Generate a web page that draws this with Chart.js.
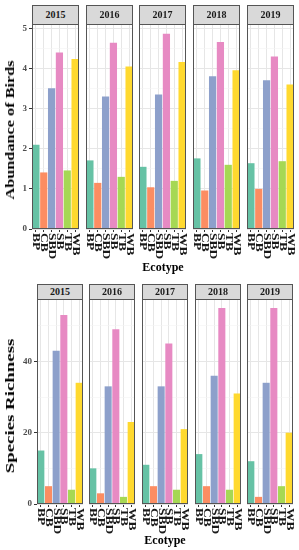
<!DOCTYPE html>
<html>
<head>
<meta charset="utf-8">
<script src="https://cdn.jsdelivr.net/npm/chart.js@4"></script>
<style>
  body { margin: 0; width: 299px; height: 550px; background: #fff; position: relative; overflow: hidden; font-family: "Liberation Serif", serif; }
  canvas { position: absolute; }
  .strip { position: absolute; box-sizing: border-box; background: #d9d9d9; border: 1px solid #555; font-weight: bold; font-size: 10px; color: #1a1a1a; text-align: center; z-index: 2; }
  .xtitle { position: absolute; font-weight: bold; font-size: 12px; color: #000; transform: translate(-50%, -50%); white-space: nowrap; }
  .ytitle { position: absolute; font-weight: bold; font-size: 13px; color: #000; white-space: nowrap; }
</style>
</head>
<body>
<script>
const years = ['2015', '2016', '2017', '2018', '2019'];
const ecotypes = ['BP', 'CB', 'SBD', 'SB', 'TB', 'WB'];
const colors = ['#66C2A5', '#FC8D62', '#8DA0CB', '#E78AC3', '#A6D854', '#FFD92F'];

// abundance of birds, one array per year (BP, CB, SBD, SB, TB, WB)
const abundance2015 = [2.10, 1.41, 3.51, 4.40, 1.46, 4.24];
const abundance2016 = [1.71, 1.15, 3.30, 4.64, 1.30, 4.05];
const abundance2017 = [1.55, 1.04, 3.35, 4.87, 1.20, 4.16];
const abundance2018 = [1.76, 0.96, 3.81, 4.66, 1.60, 3.96];
const abundance2019 = [1.64, 1.00, 3.71, 4.30, 1.69, 3.60];

// species richness
const richness2015 = [15, 5, 43, 53, 4, 34];
const richness2016 = [10, 3, 33, 49, 2, 23];
const richness2017 = [11, 5, 33, 45, 4, 21];
const richness2018 = [14, 5, 36, 55, 4, 31];
const richness2019 = [12, 2, 34, 55, 5, 20];

const abundanceTicks = [0, 0.5, 1, 1.5, 2, 2.5, 3, 3.5, 4, 4.5, 5];
const richnessTicks = [0, 10, 20, 30, 40, 50];

const FONT = 'Liberation Serif';

const panels = [
  { title: 'Abundance of Birds', series: [abundance2015, abundance2016, abundance2017, abundance2018, abundance2019],
    ticks: abundanceTicks, major: 1, max: 5.11,
    lefts: [32, 86, 139, 193, 247], width: 47, stripTop: 5, plotTop: 24, plotH: 205,
    xTitleY: 267, yTitleY: 130, yTitleStretch: 1.25 },
  { title: 'Species Richness', series: [richness2015, richness2016, richness2017, richness2018, richness2019],
    ticks: richnessTicks, major: 20, max: 57.5,
    lefts: [37, 89, 142, 195, 247], width: 46, stripTop: 284, plotTop: 299, plotH: 205,
    xTitleY: 540, yTitleY: 406, yTitleStretch: 1.45 }
];

const PAD = 8;     // spare room round each plot area
const XAXIS_H = 36;
const LABEL_STRETCH = 1.35;

const panelBorder = {
  id: 'panelBorder',
  afterDraw(chart) {
    const a = chart.chartArea, c = chart.ctx;
    c.save();
    c.strokeStyle = '#555';
    c.lineWidth = 1;
    c.strokeRect(Math.round(a.left) + 0.5, Math.round(a.top) + 0.5, Math.round(a.right - a.left) - 1, Math.round(a.bottom - a.top) - 1);
    c.restore();
  }
};

// category labels turned to read downwards, hung from the tick marks
const downLabels = {
  id: 'downLabels',
  afterDraw(chart) {
    const s = chart.scales.x, c = chart.ctx;
    c.save();
    c.font = 'bold 10px "' + FONT + '"';
    c.fillStyle = '#1a1a1a';
    c.textAlign = 'left';
    c.textBaseline = 'middle';
    chart.data.labels.forEach((lab, k) => {
      c.save();
      c.translate(s.getPixelForTick(k), s.top + 4);
      c.rotate(Math.PI / 2);
      c.scale(LABEL_STRETCH, 1);
      c.fillText(lab, 0, 0);
      c.restore();
    });
    c.restore();
  }
};

function drawFacet(p, i) {
  const first = i === 0;
  const left = first ? 0 : p.lefts[i] - PAD;
  const w = first ? p.lefts[0] + p.width + PAD : p.width + 2 * PAD;
  const h = PAD + p.plotH + XAXIS_H;

  const canvas = document.createElement('canvas');
  canvas.width = w; canvas.height = h;
  canvas.style.left = left + 'px';
  canvas.style.top = (p.plotTop - PAD) + 'px';
  document.body.appendChild(canvas);

  new Chart(canvas.getContext('2d'), {
    type: 'bar',
    data: {
      labels: ecotypes,
      datasets: [{ data: p.series[i], backgroundColor: colors, borderWidth: 0, barPercentage: 0.92, categoryPercentage: 1 }]
    },
    options: {
      responsive: false, animation: false, events: [],
      layout: { padding: { top: PAD, left: first ? 0 : PAD, right: PAD, bottom: 0 } },
      plugins: { legend: { display: false }, tooltip: { enabled: false } },
      scales: {
        x: {
          grid: { offset: false, color: '#e6e6e6', lineWidth: 1, tickColor: '#333', tickLength: 3 },
          border: { display: false },
          ticks: { display: false, autoSkip: false },
          afterFit(s) { s.height = XAXIS_H; }
        },
        y: {
          min: 0, max: p.max,
          afterBuildTicks(s) { s.ticks = p.ticks.map(v => ({ value: v })); },
          grid: {
            color: c => (c.tick && c.tick.value % p.major === 0) ? '#e6e6e6' : '#f3f3f3',
            lineWidth: c => (c.tick && c.tick.value % p.major === 0) ? 1 : 0.6,
            tickColor: c => (c.tick && c.tick.value % p.major === 0) ? '#333' : 'rgba(0,0,0,0)',
            tickLength: 3, drawTicks: first
          },
          border: { display: false },
          ticks: {
            display: first, padding: 2, color: '#4d4d4d',
            font: { family: FONT, weight: 'bold', size: 9 },
            callback: v => (v % p.major === 0 ? v : '')
          },
          afterFit(s) { s.width = first ? p.lefts[0] : 0; }
        }
      }
    },
    plugins: [panelBorder, downLabels]
  });

  const strip = document.createElement('div');
  strip.className = 'strip';
  strip.textContent = years[i];
  strip.style.left = p.lefts[i] + 'px';
  strip.style.top = p.stripTop + 'px';
  strip.style.width = p.width + 'px';
  strip.style.height = (p.plotTop - p.stripTop + 1) + 'px';
  strip.style.lineHeight = (p.plotTop - p.stripTop - 1) + 'px';
  document.body.appendChild(strip);
}

panels.forEach(p => {
  years.forEach((y, i) => drawFacet(p, i));
  const t = document.createElement('div');
  t.className = 'xtitle';
  t.textContent = 'Ecotype';
  t.style.left = ((p.lefts[0] + p.lefts[4] + p.width) / 2) + 'px';
  t.style.top = p.xTitleY + 'px';
  document.body.appendChild(t);

  const yt = document.createElement('div');
  yt.className = 'ytitle';
  yt.textContent = p.title;
  yt.style.left = '10px';
  yt.style.top = p.yTitleY + 'px';
  yt.style.transform = 'translate(-50%, -50%) rotate(-90deg) scaleX(' + p.yTitleStretch + ')';
  document.body.appendChild(yt);
});
</script>
</body>
</html>
